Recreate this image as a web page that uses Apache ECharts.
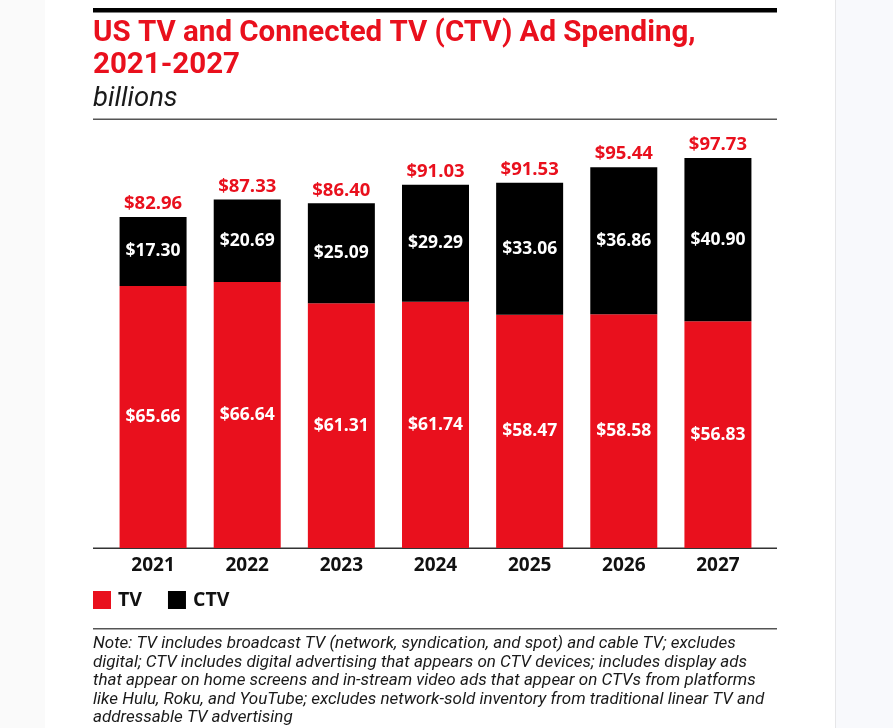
<!DOCTYPE html>
<html>
<head>
<meta charset="utf-8">
<script src="https://cdn.jsdelivr.net/npm/echarts@6/dist/echarts.min.js"></script>
<style>
  html, body { margin: 0; padding: 0; }
  body {
    width: 893px; height: 728px; overflow: hidden;
    background: linear-gradient(to right, #fafafa 0px, #fafafa 45px, #ffffff 45px, #ffffff 835px, #e6e6e8 835px, #e6e6e8 836px, #f8f9fc 836px, #f8f9fc 893px);
  }
  #chart { width: 893px; height: 728px; }
</style>
</head>
<body>
<div id="chart"></div>
<script>
const categories = ['2021', '2022', '2023', '2024', '2025', '2026', '2027'];
const tvValues = [65.66, 66.64, 61.31, 61.74, 58.47, 58.58, 56.83];
const ctvValues = [17.30, 20.69, 25.09, 29.29, 33.06, 36.86, 40.90];
const totalValues = [82.96, 87.33, 86.40, 91.03, 91.53, 95.44, 97.73];

const RED = '#e9101d';
const LABEL_FONT = '"Open Sans", "DejaVu Sans", sans-serif';
const money = v => '$' + Number(v).toFixed(2);

const noteText = [
  'Note: TV includes broadcast TV (network, syndication, and spot) and cable TV; excludes',
  'digital; CTV includes digital advertising that appears on CTV devices; includes display ads',
  'that appear on home screens and in-stream video ads that appear on CTVs from platforms',
  'like Hulu, Roku, and YouTube; excludes network-sold inventory from traditional linear TV and',
  'addressable TV advertising'
].join('\n');

const chart = echarts.init(document.getElementById('chart'), null, { renderer: 'canvas' });
chart.setOption({
  backgroundColor: 'transparent',
  animation: false,
  title: [
    {
      text: 'US TV and Connected TV (CTV) Ad Spending,\n2021-2027',
      left: 93, top: 18, padding: 0,
      textStyle: { color: RED, fontFamily: 'Roboto, sans-serif', fontWeight: 'bold', fontSize: 29.5, lineHeight: 32 }
    },
    {
      text: 'billions',
      left: 93, top: 84, padding: 0,
      textStyle: { color: '#1a1a1a', fontFamily: 'Roboto, sans-serif', fontStyle: 'italic', fontWeight: 'normal', fontSize: 27.5, lineHeight: 30 }
    }
  ],
  legend: {
    data: ['TV', 'CTV'],
    left: 93, top: 590, padding: 0,
    icon: 'rect', itemWidth: 18, itemHeight: 18, itemGap: 26,
    textStyle: { color: '#111', fontFamily: LABEL_FONT, fontWeight: 'bold', fontSize: 19.5, padding: [0, 0, 0, 2] },
    selectedMode: false
  },
  grid: { left: 106, right: 128, top: 149, bottom: 180, containLabel: false },
  xAxis: {
    type: 'category',
    data: categories,
    axisLine: { show: false },
    axisTick: { show: false },
    axisLabel: { color: '#111', fontFamily: LABEL_FONT, fontWeight: 'bold', fontSize: 19, margin: 8 }
  },
  yAxis: {
    type: 'value', min: 0, max: 100,
    show: false, splitLine: { show: false }
  },
  series: [
    {
      name: 'TV', type: 'bar', stack: 'total', data: tvValues, barWidth: 67,
      itemStyle: { color: RED },
      label: { show: true, position: 'inside', color: '#fff', fontFamily: LABEL_FONT, fontWeight: 'bold', fontSize: 17.5, formatter: p => money(p.value) }
    },
    {
      name: 'CTV', type: 'bar', stack: 'total', data: ctvValues, barWidth: 67,
      itemStyle: { color: '#000' },
      label: { show: true, position: 'inside', color: '#fff', fontFamily: LABEL_FONT, fontWeight: 'bold', fontSize: 17.5, formatter: p => money(p.value) }
    },
    {
      name: 'Total', type: 'line', data: totalValues, silent: true,
      symbol: 'circle', symbolSize: 1, showSymbol: true,
      itemStyle: { color: 'rgba(0,0,0,0)' },
      lineStyle: { width: 0, opacity: 0 }, z: 5,
      label: { show: true, position: 'top', distance: 3, color: RED, fontFamily: LABEL_FONT, fontWeight: 'bold', fontSize: 18.5, formatter: p => money(p.value) }
    }
  ],
  graphic: [
    { type: 'rect', shape: { x: 93, y: 8, width: 684, height: 4.5 }, style: { fill: '#000' }, silent: true },
    { type: 'rect', shape: { x: 93, y: 118.5, width: 684, height: 1.5 }, style: { fill: '#555' }, silent: true },
    { type: 'rect', shape: { x: 93, y: 547.5, width: 684, height: 1.5 }, style: { fill: '#333' }, silent: true },
    { type: 'rect', shape: { x: 93, y: 628, width: 684, height: 1.5 }, style: { fill: '#555' }, silent: true },
    {
      type: 'text', left: 93, top: 634.5, silent: true,
      style: { text: noteText, fill: '#1a1a1a', font: 'italic 17px Roboto, sans-serif', lineHeight: 18.5 }
    }
  ]
});
</script>
</body>
</html>
